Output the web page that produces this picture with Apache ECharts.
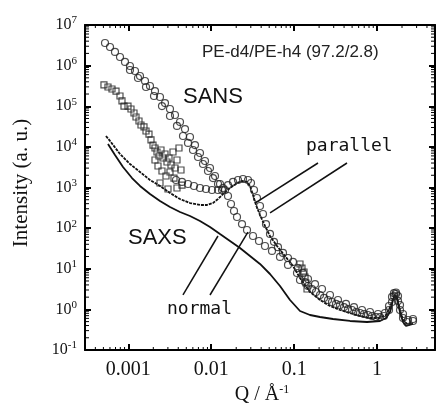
<!DOCTYPE html>
<html><head><meta charset="utf-8">
<script src="https://cdn.jsdelivr.net/npm/echarts@6/dist/echarts.min.js"></script>
<style>html,body{margin:0;padding:0;background:#fff}#c{width:438px;height:408px}</style>
</head><body><div id="c"></div>
<script>
// ---- tick labels ----
const xTickValues = [0.001, 0.01, 0.1, 1];
const xTickLabels = ['0.001', '0.01', '0.1', '1'];
const yTickExponents = [-1, 0, 1, 2, 3, 4, 5, 6, 7];
const minorMultipliers = [2, 3, 4, 5, 6, 7, 8, 9];

// ---- SANS, normal direction (open circles) [Q, I] ----
const sansNormal = [
 [0.000523,3.61e6],[0.000601,2.87e6],[0.000690,2.17e6],[0.000793,1.63e6],[0.000911,1.23e6],
 [0.001046,9.79e5],[0.001203,7.37e5],[0.001382,5.55e5],[0.001588,4.18e5],[0.001824,3.15e5],
 [0.002096,2.37e5],[0.002408,1.69e5],[0.002767,1.20e5],[0.003179,8.56e4],[0.003653,6.09e4],
 [0.004197,4.10e4],[0.004823,2.75e4],[0.005541,1.75e4],[0.006365,1.11e4],[0.007312,7.07e3],
 [0.008403,4.49e3],[0.009658,3.02e3],[0.011098,1.92e3],[0.012753,1.22e3],[0.014648,868],
 [0.001046,7.8e5],[0.001307,4.96e5],[0.001633,2.98e5],[0.002039,1.79e5],[0.002545,1.01e5],
 [0.003179,5.75e4],[0.003861,3.27e4],[0.004562,1.85e4],[0.005242,1.25e4],[0.006022,8.38e3],
 [0.006921,5.63e3],[0.007952,3.79e3],[0.009135,2.55e3],[0.010498,1.71e3],[0.012064,1.22e3],
 [0.013476,868],
 [0.015922,618],[0.017303,393],[0.018813,264],[0.020445,188],[0.023492,126],[0.026991,89.9],
 [0.031886,64.0],[0.03767,48.2],[0.044496,36.3],[0.054032,27.4],[0.067487,19.5],[0.084284,12.4],
 [0.10822,7.86],[0.13515,4.72],[0.16416,3.17],[0.20501,2.26],[0.2561,1.70],[0.3197,1.36],
 [0.3994,1.14],[0.4985,0.965],[0.6226,0.814],[0.7774,0.727],[0.9712,0.649],[1.2129,0.687],
 [1.394,0.965],[1.5147,1.52],[1.6012,2.13],[1.6927,2.39],[1.7891,1.61],[1.8914,0.965],
 [2.0559,0.613],[2.2977,0.489],[2.7153,0.518],
 [0.1176,5.29],[0.1469,3.76],[0.1835,2.68],[0.2291,1.91],[0.2861,1.52],[0.3573,1.28],
 [0.4463,1.02],[0.5572,0.862],[0.6961,0.769],[0.8692,0.687],[1.0852,0.649]
];

// ---- SANS, parallel direction (open circles) ----
const sansParallel = [
 [0.003756,1.53e3],[0.004437,1.37e3],[0.005242,1.22e3],[0.006191,1.09e3],[0.007312,972],
 [0.008641,919],[0.01021,868],[0.012064,868],[0.013856,972],[0.015922,1.15e3],[0.018295,1.37e3],
 [0.02102,1.53e3],[0.024151,1.62e3],[0.027749,1.53e3],[0.030159,1.29e3],[0.032784,868],
 [0.035628,551],[0.038726,350],[0.042092,223],[0.045751,125],[0.051112,72],[0.057124,46],
 [0.063838,34],[0.073339,24.5],[0.084284,18.4],[0.096828,14.7],[0.11126,10.4],[0.1279,7.9],
 [0.1469,5.6],[0.1785,4.2],[0.2167,3.17],[0.2706,2.26],[0.338,1.70],[0.422,1.36],
 [0.5271,1.14],[0.6583,0.965],[0.822,0.862],[1.027,0.769],[1.2468,0.814],[1.394,1.21],
 [1.5147,2.02],[1.6012,2.5],[1.6927,2.6],[1.7891,2.13],[1.8914,1.28],[2.0559,0.769],
 [2.3627,0.548],[2.7153,0.58]
];

// ---- SANS, open squares ----
const sansSquares = [
 [0.000508,3.34e5],[0.000568,2.98e5],[0.000635,2.66e5],[0.00071,2.37e5],[0.000793,1.79e5],
 [0.000838,1.35e5],[0.000886,1.01e5],[0.00099,1.01e5],[0.001076,8.56e4],[0.00117,6.82e4],
 [0.001237,5.44e4],[0.001344,4.34e4],[0.001421,3.46e4],[0.001544,3.09e4],[0.001633,2.46e4],
 [0.001774,2.07e4],[0.001876,1.48e4],[0.001983,1.11e4],[0.002096,9.39e3],[0.002216,7.48e3],
 [0.002343,5.96e3],[0.002476,8.38e3],[0.002617,5.32e3],[0.002767,6.68e3],[0.002925,4.24e3],
 [0.003093,5.32e3],[0.00327,3.58e3],[0.003455,7.48e3],[0.003653,3.02e3],[0.003861,4.75e3],
 [0.004081,9.39e3],[0.004315,2.70e3],[0.002096,4.75e3],[0.002278,3.38e3],[0.002545,2.55e3],
 [0.002845,1.92e3],[0.003179,2.41e3],[0.003553,1.71e3],[0.002408,1.29e3],[0.003007,919],
 [0.003861,972],[0.004437,1.15e3],
 [0.1176,13.1],[0.1243,10.4],[0.1315,8.32],[0.1352,6.26],[0.139,4.46],[0.1429,3.17]
];

// ---- SAXS, parallel ----
const saxsParallel = [
 [0.000537,1.85e4],[0.000601,1.40e4],[0.000793,6.68e3],[0.001046,3.79e3],[0.001382,2.41e3],
 [0.001824,1.53e3],[0.002408,1.09e3],[0.003179,732],[0.004197,521],[0.005541,415],
 [0.007312,371],[0.008885,371],[0.010498,415],[0.012064,521],[0.013856,692],[0.016831,972],
 [0.020445,1.29e3],[0.023492,1.45e3],[0.026991,1.37e3],[0.029335,1.09e3],[0.031886,654],
 [0.03465,371],[0.038726,210],[0.044496,113],[0.051112,64.0],[0.062087,36.3],[0.077555,20.6],
 [0.096828,11.7],[0.1176,5.92],[0.1553,2.68],[0.205,1.70],[0.2706,1.21],[0.3573,0.965],
 [0.4718,0.814],[0.6226,0.687],[0.822,0.613],[1.0852,0.613],[1.282,0.727],[1.4329,1.14],
 [1.6012,2.13],[1.7402,2.02],[1.8914,0.965],[2.0559,0.548],[2.2977,0.437],[2.7153,0.462]
];

// ---- SAXS, normal ----
const saxsNormal = [
 [0.000568,1.18e4],[0.00069,6.31e3],[0.000862,3.20e3],[0.001107,1.71e3],[0.001382,1.09e3],
 [0.001824,692],[0.002408,465],[0.003179,331],[0.004197,249],[0.005541,199],[0.007312,150],
 [0.009658,107],[0.012753,71.7],[0.016831,48.2],[0.022221,32.4],[0.029335,20.6],[0.038726,13.1],
 [0.051112,7.43],[0.067487,3.76],[0.089115,1.70],[0.1176,0.912],[0.1553,0.727],[0.205,0.649],
 [0.2942,0.58],[0.4718,0.518],[0.7562,0.489],[1.0852,0.518],[1.282,0.613],[1.4329,0.862],
 [1.5574,1.70],[1.6463,2.26],[1.7402,1.80],[1.8914,0.862],[2.0559,0.489],[2.235,0.39],[2.7153,0.437]
];

// ---- annotation leader lines (data coordinates) ----
const parallelLeaders = [[[0.194,4010],[0.0337,415]], [[0.434,4010],[0.0512,236]]];
const normalLeaders = [[[0.00456,2.26],[0.01205,64]], [[0.00966,2.26],[0.0277,80]]];

const X_MIN = 0.0003, X_MAX = 5, Y_MIN = 0.1, Y_MAX = 1e7;

const chart = echarts.init(document.getElementById('c'), null, {renderer: 'canvas'});
const serif = 'Liberation Serif';

function isDecade(v){ const l = Math.log10(v); return Math.abs(l - Math.round(l)) < 1e-6; }
function minorValues(lo, hi){
  const out = [];
  for (let e = Math.floor(Math.log10(lo)); e <= Math.ceil(Math.log10(hi)); e++)
    for (const m of minorMultipliers){ const v = m * Math.pow(10, e); if (v > lo * 1.0001 && v < hi * 0.9999) out.push(v); }
  return out;
}
const xMinor = minorValues(X_MIN, X_MAX);
const yMinor = minorValues(Y_MIN, Y_MAX);

const tickCommon = {
  axisLine: {show: true, lineStyle: {color: '#000', width: 2}},
  axisTick: {show: true, inside: true, length: 6, lineStyle: {color: '#000', width: 2}},
  minorTick: {show: false},
  splitLine: {show: false}, minorSplitLine: {show: false}
};
const xBase = Object.assign({type: 'log', logBase: 10, min: X_MIN, max: X_MAX, gridIndex: 0}, tickCommon);
const yBase = Object.assign({type: 'log', logBase: 10, min: Y_MIN, max: Y_MAX, gridIndex: 0}, tickCommon);

function leaderData(arr){ return arr.map(p => [{coord: p[0]}, {coord: p[1]}]); }

function renderMinorTicks(params, api){
  const ch = [];
  const st = {stroke: '#000', lineWidth: 1};
  xMinor.forEach(q => {
    const b = api.coord([q, Y_MIN]), t = api.coord([q, Y_MAX]);
    ch.push({type: 'line', shape: {x1: b[0], y1: b[1], x2: b[0], y2: b[1] - 3}, style: st});
    ch.push({type: 'line', shape: {x1: t[0], y1: t[1], x2: t[0], y2: t[1] + 3}, style: st});
  });
  yMinor.forEach(v => {
    const l = api.coord([X_MIN, v]), r = api.coord([X_MAX, v]);
    ch.push({type: 'line', shape: {x1: l[0], y1: l[1], x2: l[0] + 4, y2: l[1]}, style: st});
    ch.push({type: 'line', shape: {x1: r[0], y1: r[1], x2: r[0] - 4, y2: r[1]}, style: st});
  });
  return {type: 'group', children: ch};
}

const circleStyle = {color: 'rgba(255,255,255,0)', borderColor: '#222', borderWidth: 1.2};

const option = {
  animation: false,
  backgroundColor: '#fff',
  grid: {left: 85, top: 25, width: 350, height: 325},
  xAxis: [
    Object.assign({}, xBase, {position: 'bottom',
      axisLabel: {show: true, showMinLabel: false, showMaxLabel: false, margin: 10,
        fontFamily: serif, fontSize: 20, color: '#111',
        formatter: v => { if (!isDecade(v)) return ''; const i = xTickValues.findIndex(t => Math.abs(Math.log10(t) - Math.log10(v)) < 1e-6); return i >= 0 ? xTickLabels[i] : ''; }}}),
    Object.assign({}, xBase, {position: 'top', axisLabel: {show: false}})
  ],
  yAxis: [
    Object.assign({}, yBase, {position: 'left',
      axisLabel: {show: true, margin: 8, fontFamily: serif, fontSize: 16, color: '#111',
        formatter: v => { const e = Math.round(Math.log10(v)); return yTickExponents.indexOf(e) >= 0 ? '{b|10}{s|' + e + '}' : ''; },
        rich: {b: {fontFamily: serif, fontSize: 16, color: '#111'}, s: {fontFamily: serif, fontSize: 11, color: '#111', verticalAlign: 'top', padding: [0, 0, 9, 0]}}}}),
    Object.assign({}, yBase, {position: 'right', axisLabel: {show: false}})
  ],
  series: [
    {type: 'custom', name: 'minor ticks', coordinateSystem: 'cartesian2d', data: [[1, 1]],
     renderItem: renderMinorTicks, silent: true, clip: false, z: 10},
    {type: 'line', name: 'SAXS normal', data: saxsNormal, showSymbol: false, symbol: 'none',
     lineStyle: {color: '#111', width: 1.8}, z: 3,
     markLine: {silent: true, symbol: 'none', label: {show: false}, lineStyle: {color: '#111', width: 1.5, type: 'solid'}, data: leaderData(normalLeaders)}},
    {type: 'line', name: 'SAXS parallel', data: saxsParallel, showSymbol: false, symbol: 'none',
     lineStyle: {color: '#111', width: 1.8, type: [3, 1]}, z: 3,
     markLine: {silent: true, symbol: 'none', label: {show: false}, lineStyle: {color: '#111', width: 1.5, type: 'solid'}, data: leaderData(parallelLeaders)}},
    {type: 'scatter', name: 'SANS squares', data: sansSquares, symbol: 'rect', symbolSize: 6,
     itemStyle: circleStyle, z: 4},
    {type: 'scatter', name: 'SANS normal', data: sansNormal, symbol: 'circle', symbolSize: 7,
     itemStyle: circleStyle, z: 4},
    {type: 'scatter', name: 'SANS parallel', data: sansParallel, symbol: 'circle', symbolSize: 7,
     itemStyle: circleStyle, z: 4}
  ],
  graphic: [
    {type: 'text', left: 202, top: 44, style: {text: 'PE-d4/PE-h4 (97.2/2.8)', font: '17px "Liberation Sans"', fill: '#222'}},
    {type: 'text', left: 183, top: 86, style: {text: 'SANS', font: '22px "Liberation Sans"', fill: '#111'}},
    {type: 'text', left: 128, top: 227, style: {text: 'SAXS', font: '22px "Liberation Sans"', fill: '#111'}},
    {type: 'text', left: 306, top: 137, style: {text: 'parallel', font: '18px "DejaVu Sans Mono"', fill: '#111'}},
    {type: 'text', left: 167, top: 300, style: {text: 'normal', font: '18px "DejaVu Sans Mono"', fill: '#111'}},
    {type: 'text', x: 21, y: 183, rotation: Math.PI / 2, style: {text: 'Intensity (a. u.)', font: '21px "Liberation Serif"', fill: '#111', align: 'center', verticalAlign: 'middle'}},
    {type: 'text', x: 262, y: 395, style: {text: '{m|Q / Å}{s|-1}', align: 'center', verticalAlign: 'middle',
      rich: {m: {fontFamily: serif, fontSize: 20, fill: '#111'}, s: {fontFamily: serif, fontSize: 12, fill: '#111', verticalAlign: 'top', padding: [0, 0, 10, 0]}}}}
  ]
};
chart.setOption(option);
</script>
</body></html>
